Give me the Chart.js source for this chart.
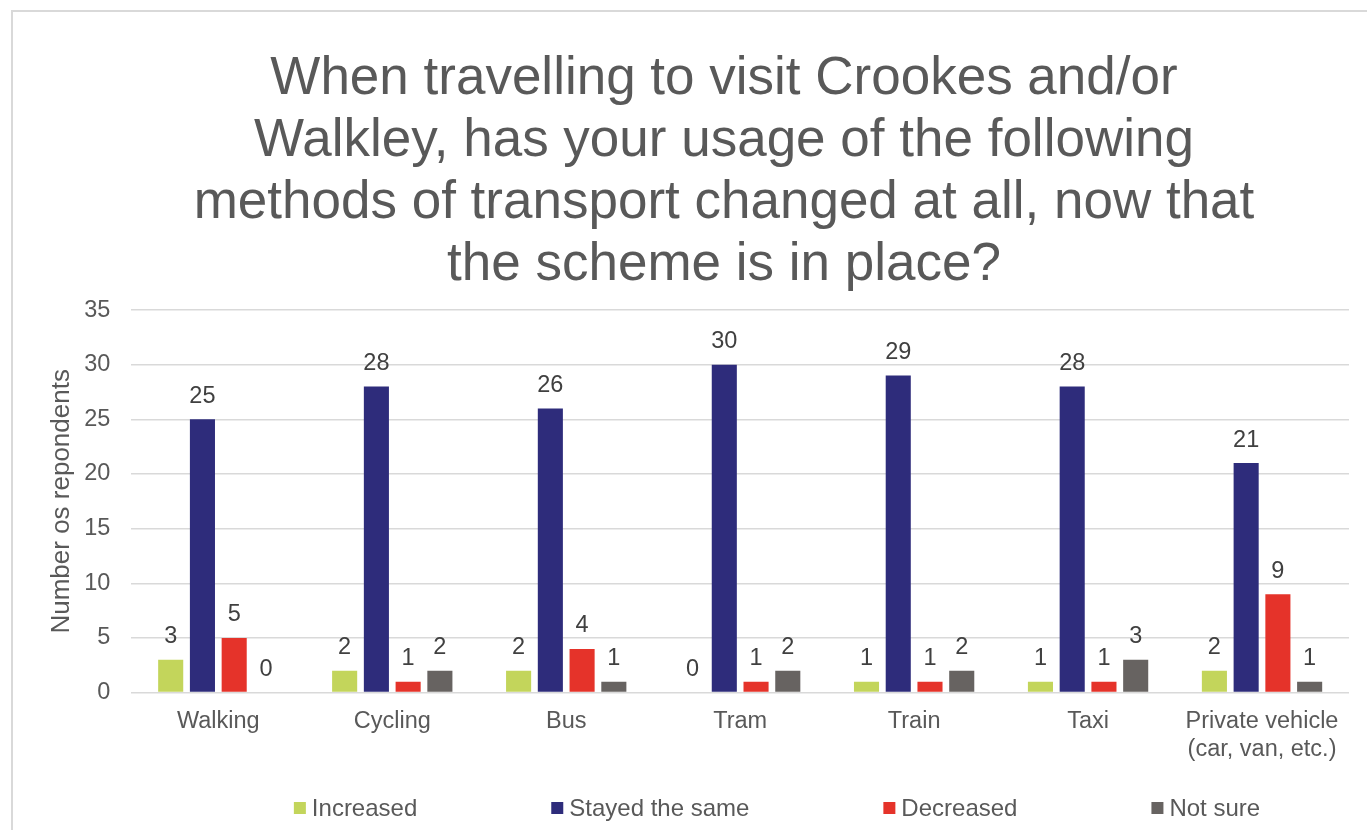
<!DOCTYPE html>
<html>
<head>
<meta charset="utf-8">
<title>Transport usage – Crookes and Walkley</title>
<script src="https://cdn.jsdelivr.net/npm/chart.js@4.4.0/dist/chart.umd.min.js"></script>
<style>
  html, body { margin: 0; padding: 0; background: #fff; overflow: hidden; }
  .frame {
    position: absolute;
    left: 11px;
    top: 10px;
    border: 2px solid #d9d9d9;
    width: 1422px;
    height: 830px;
  }
  .frame canvas { display: block; }
</style>
</head>
<body>
<div class="frame"><canvas id="transportChart" width="1422" height="818"></canvas></div>
<script>
const titleLines = [
    'When travelling to visit Crookes and/or',
    'Walkley, has your usage of the following',
    'methods of transport changed at all, now that',
    'the scheme is in place?'
];
const categories = ['Walking', 'Cycling', 'Bus', 'Tram', 'Train', 'Taxi', ['Private vehicle', '(car, van, etc.)']];
const seriesNames = ['Increased', 'Stayed the same', 'Decreased', 'Not sure'];
const increased = [3, 2, 2, 0, 1, 1, 2];
const stayedSame = [25, 28, 26, 30, 29, 28, 21];
const decreased = [5, 1, 4, 1, 1, 1, 9];
const notSure = [0, 2, 1, 2, 2, 3, 1];
const yTicks = [0, 5, 10, 15, 20, 25, 30, 35];

const FONT = 'Arial, "Liberation Sans", sans-serif';
const TEXT = '#595959';
const colours = ['#c3d55b', '#2e2c7b', '#e5332a', '#676361'];

// numbers above each bar
const valueLabels = {
    id: 'valueLabels',
    afterDatasetsDraw(chart) {
        const ctx = chart.ctx;
        ctx.save();
        ctx.font = `23.5px ${FONT}`;
        ctx.fillStyle = '#404040';
        ctx.textAlign = 'center';
        ctx.textBaseline = 'middle';
        chart.data.datasets.forEach((ds, i) => {
            chart.getDatasetMeta(i).data.forEach((bar, j) => {
                ctx.fillText(String(ds.data[j]), bar.x, bar.y - 23);
            });
        });
        ctx.restore();
    }
};

// keep the title centred on the whole canvas, not just the padded box
const centreTitle = {
    id: 'centreTitle',
    afterLayout(chart) {
        if (chart.titleBlock) {
            chart.titleBlock.left = 0;
            chart.titleBlock.right = chart.width;
        }
    }
};

// wide-spaced legend along the bottom
const spreadLegend = {
    id: 'spreadLegend',
    afterDraw(chart, args, opts) {
        const ctx = chart.ctx;
        const box = 12, textGap = 6, itemGap = 134;
        ctx.save();
        ctx.font = `24px ${FONT}`;
        ctx.textBaseline = 'middle';
        ctx.textAlign = 'left';
        const items = chart.data.datasets.map(ds => ({
            text: ds.label,
            colour: ds.backgroundColor,
            width: box + textGap + ctx.measureText(ds.label).width
        }));
        const total = items.reduce((s, it) => s + it.width, 0) + itemGap * (items.length - 1);
        let x = chart.width / 2 - total / 2 + opts.shift;
        const y = opts.y;
        items.forEach(it => {
            ctx.fillStyle = it.colour;
            ctx.fillRect(x, y - box / 2, box, box);
            ctx.fillStyle = TEXT;
            ctx.fillText(it.text, x + box + textGap, y + 1);
            x += it.width + itemGap;
        });
        ctx.restore();
    }
};

const seriesData = [increased, stayedSame, decreased, notSure];

new Chart(document.getElementById('transportChart'), {
    type: 'bar',
    data: {
        labels: categories,
        datasets: seriesNames.map((name, i) => ({
            label: name,
            data: seriesData[i],
            backgroundColor: colours[i],
            categoryPercentage: 0.73,
            barPercentage: 0.79
        }))
    },
    options: {
        responsive: false,
        animation: false,
        layout: { padding: { left: 20, right: 86, bottom: 59, top: 0 } },
        plugins: {
            legend: { display: false },
            tooltip: { enabled: false },
            title: {
                display: true,
                text: titleLines,
                color: TEXT,
                font: { family: FONT, size: 53, weight: 'normal', lineHeight: 1.17 },
                padding: { top: 36, bottom: 14 }
            },
            spreadLegend: { y: 796, shift: 53 }
        },
        scales: {
            x: {
                grid: { display: false },
                border: { display: false },
                ticks: {
                    color: TEXT,
                    font: { family: FONT, size: 23.5 },
                    padding: 7,
                    maxRotation: 0
                }
            },
            y: {
                min: 0,
                max: 35,
                afterBuildTicks(scale) {
                    scale.ticks = yTicks.map(v => ({ value: v }));
                },
                grid: { color: '#d9d9d9', lineWidth: 1.5, drawTicks: false },
                border: { display: false },
                ticks: {
                    color: TEXT,
                    font: { family: FONT, size: 23.5 },
                    padding: 21
                },
                title: {
                    display: true,
                    text: 'Number os repondents',
                    color: TEXT,
                    font: { family: FONT, size: 26 },
                    padding: { top: 13, bottom: -14 }
                }
            }
        }
    },
    plugins: [valueLabels, centreTitle, spreadLegend]
});
</script>
</body>
</html>
